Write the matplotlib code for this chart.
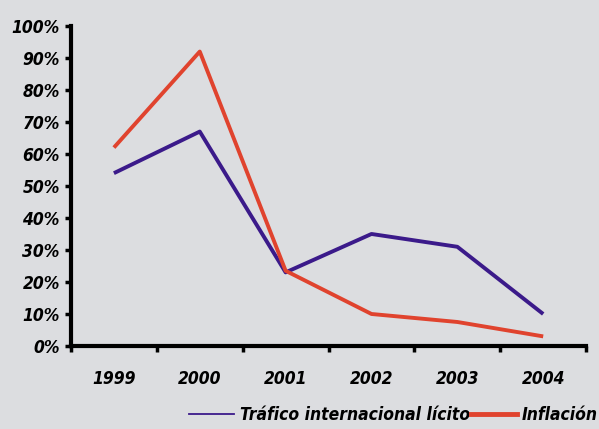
import numpy as np
import matplotlib.pyplot as plt
from matplotlib.lines import Line2D

years = ['1999', '2000', '2001', '2002', '2003', '2004']
trafico = [54, 67, 23, 35, 31, 10]
inflacion = [62, 92, 23.5, 10, 7.5, 3]
yticks = np.arange(0, 101, 10)

plt.rcParams['font.family'] = ['DejaVu Sans']
plt.rcParams['font.stretch'] = 'condensed'

font = {'size': 12.5, 'weight': 'bold', 'style': 'italic', 'stretch': 'condensed'}

bg = '#dcdde0'
fig = plt.figure(figsize=(5.99, 4.29), dpi=100, facecolor=bg)
ax = fig.add_axes([0.1185, 0.1935, 0.86, 0.746], facecolor=bg)

x = np.arange(len(years))
ax.plot(x, trafico, color='#3b1a8a', lw=2.8, solid_capstyle='butt')
ax.plot(x, inflacion, color='#e0432e', lw=2.8, solid_capstyle='butt')

ax.set_xlim(-0.5, len(years) - 0.5)
ax.set_ylim(0, 100)
ax.set_yticks(yticks)
ax.set_yticklabels([f'{v}%' for v in yticks], **font)
ax.set_xticks(x)
ax.set_xticklabels(years, **font)
ax.set_xticks(np.arange(-0.5, len(years), 1), minor=True)
ax.tick_params(axis='x', which='major', length=0, pad=17)
ax.tick_params(axis='x', which='minor', length=4, width=2.5, direction='out')
ax.tick_params(axis='y', length=4, width=2.5, direction='out', pad=4)

for s in ['top', 'right']:
    ax.spines[s].set_visible(False)
for s in ['left', 'bottom']:
    ax.spines[s].set_linewidth(3)

handles = [Line2D([], [], color='#3b1a8a', lw=1.3),
           Line2D([], [], color='#e0432e', lw=3.5)]
fig.legend(handles, ['Tráfico internacional lícito', 'Inflación'],
           loc='center right', bbox_to_anchor=(1.024, 0.033), ncol=2, frameon=False,
           handlelength=2.6, handletextpad=0.3, columnspacing=0.1,
           prop=font)

fig.savefig('out.png', dpi=100, facecolor=bg)
